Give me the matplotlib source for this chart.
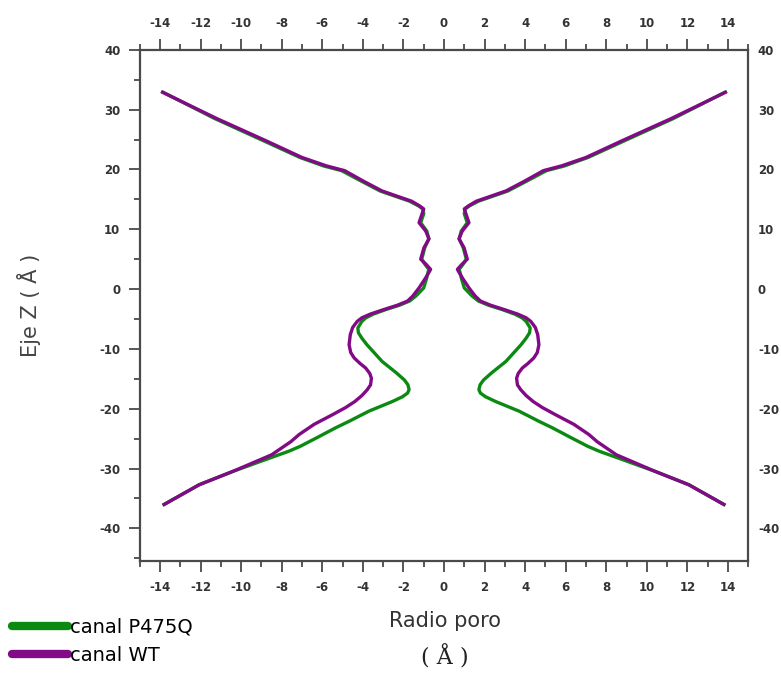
import matplotlib
matplotlib.use('Agg')
import matplotlib.pyplot as plt
from matplotlib.ticker import MultipleLocator
import numpy as np

plt.rcParams['axes.unicode_minus'] = False

# Pore profile along the channel axis (z in Angstrom) and pore radius (Angstrom)
z_wt = [32.9, 28.5, 24.8, 22.0, 20.6, 19.8, 18.0, 16.4, 15.4, 14.7, 13.9, 13.4,
        12.6, 11.1, 9.7, 8.4, 6.9, 5.0, 4.2, 3.3, 1.9, 0.2, -1.2, -2.0, -2.7,
        -3.4, -4.2, -4.8, -5.4, -6.4, -7.6, -9.3, -10.6, -11.5, -12.4, -13.2,
        -14.1, -14.9, -16.0, -16.8, -17.8, -18.8, -19.8, -21.0, -22.6,
        -24.3, -25.5, -27.7, -30.5, -32.7, -36.0]
r_wt = [13.88, 11.2, 8.78, 7.0, 5.8, 4.9, 3.95, 3.05, 2.2, 1.6, 1.2, 1.0,
        1.08, 1.23, 0.90, 0.74, 0.99, 1.15, 0.90, 0.66, 0.90, 1.23, 1.55, 1.8, 2.3,
        2.95, 3.65, 4.05, 4.28, 4.5, 4.62, 4.68, 4.6, 4.43, 4.15, 3.86,
        3.66, 3.58, 3.62, 3.78, 4.05, 4.4, 4.85, 5.5, 6.4,
        7.14, 7.55, 8.5, 10.43, 12.07, 13.8]

z_mut = [32.9, 28.5, 24.8, 22.0, 20.6, 19.8, 18.0, 16.4, 15.4, 14.7, 13.9, 13.4,
         12.6, 11.1, 9.7, 8.4, 6.9, 5.0, 4.2, 3.3, 1.9, 0.2, -1.2, -2.0, -2.7,
         -3.4, -4.2, -4.8, -5.4, -6.5, -7.3, -8.2, -9.3, -12.1, -14.0, -15.2,
         -16.0, -16.8, -17.4, -18.0, -18.8, -20.4, -22.1,
         -23.2, -24.9, -26.3, -27.1, -28.5, -30.5, -32.7, -36.0]
r_mut = [13.85, 11.3, 8.9, 7.1, 5.95, 5.05, 4.05, 3.15, 2.3, 1.7, 1.25, 1.05,
         1.0, 1.15, 0.85, 0.75, 0.95, 1.1, 0.95, 0.75, 0.85, 1.0, 1.4, 1.7, 2.2,
         2.85, 3.5, 3.85, 4.05, 4.25, 4.22, 4.05, 3.8, 3.05, 2.35, 1.95,
         1.78, 1.72, 1.8, 2.05, 2.55, 3.7, 4.68,
         5.35, 6.3, 7.1, 7.65, 8.8, 10.43, 12.07, 13.8]

green = '#0b8a12'
purple = '#820a86'
frame = '#4a4a4a'

fig = plt.figure(figsize=(7.81, 6.73), dpi=100)
ax = fig.add_axes([0.179, 0.166, 0.779, 0.760])

# Each profile is drawn mirrored about the pore axis
r_mut = np.array(r_mut)
r_wt = np.array(r_wt)
ax.plot(-r_mut, z_mut, color=green, lw=2.4, label='canal P475Q')
ax.plot(r_mut, z_mut, color=green, lw=2.4)
ax.plot(-r_wt, z_wt, color=purple, lw=2.4, label='canal WT')
ax.plot(r_wt, z_wt, color=purple, lw=2.4)

ax.set_xlim(-15, 15)
ax.set_ylim(-45.5, 40)

ax.xaxis.set_minor_locator(MultipleLocator(1))
ax.yaxis.set_minor_locator(MultipleLocator(5))
ax.set_xticks(np.arange(-14, 15, 2))
ax.set_yticks(np.arange(-40, 41, 10))

for s in ax.spines.values():
    s.set_color(frame)
    s.set_linewidth(1.6)

ax.tick_params(axis='x', which='both', direction='out', top=True, labeltop=True,
               bottom=True, labelbottom=True, color=frame, width=1.3)
ax.tick_params(axis='y', which='both', direction='out', left=True, right=False,
               color=frame, width=1.3)
ax.tick_params(which='major', length=8, labelsize=8.5, labelcolor='#333333', pad=6)
ax.tick_params(which='minor', length=4.5)
for lab in ax.get_xticklabels() + ax.get_yticklabels():
    lab.set_fontweight('bold')

# Right side labels (no tick marks)
ax2 = ax.twinx()
ax2.set_ylim(ax.get_ylim())
ax2.set_yticks(np.arange(-40, 41, 10))
ax2.tick_params(axis='y', length=0, labelsize=8.5, labelcolor='#333333', pad=7)
for lab in ax2.get_yticklabels():
    lab.set_fontweight('bold')
for s in ax2.spines.values():
    s.set_visible(False)

ax.set_ylabel('Eje Z ( Å )', fontsize=15, color='#444444')
ax.yaxis.set_label_coords(-0.162, 0.5)
fig.text(0.57, 0.068, 'Radio poro', fontsize=15, color='#333333', ha='center')
fig.text(0.57, 0.012, '( Å )', fontsize=16, color='#222222', ha='center',
         family='DejaVu Serif')

leg = ax.legend(loc='lower left', bbox_to_anchor=(0.005, 0.0),
                bbox_transform=fig.transFigure, frameon=False, fontsize=14,
                handlelength=2.9, handletextpad=0.1, labelspacing=0.5,
                borderaxespad=0)
for line in leg.get_lines():
    line.set_linewidth(6)
    line.set_solid_capstyle('round')

fig.savefig('out.png', dpi=100)
